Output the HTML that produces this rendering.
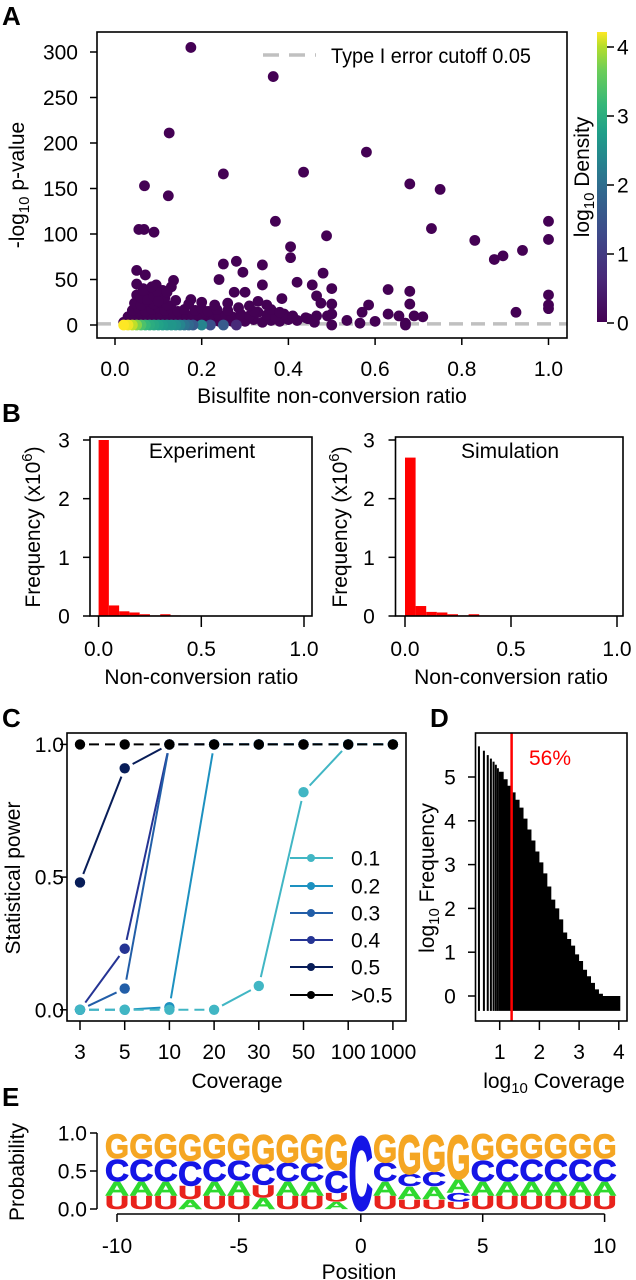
<!DOCTYPE html>
<html><head><meta charset="utf-8"><style>
body{margin:0;background:#fff;}
svg{display:block;font-family:"Liberation Sans",Arial,sans-serif;}
</style></head><body>
<svg id="fig" width="636" height="1280" viewBox="0 0 636 1280" xmlns="http://www.w3.org/2000/svg">
<defs>
<linearGradient id="vir" x1="0" y1="1" x2="0" y2="0">
<stop offset="0" stop-color="#440154"/><stop offset="0.15" stop-color="#482878"/><stop offset="0.3" stop-color="#3e4989"/><stop offset="0.45" stop-color="#31688e"/><stop offset="0.55" stop-color="#26828e"/><stop offset="0.65" stop-color="#1f9e89"/><stop offset="0.75" stop-color="#35b779"/><stop offset="0.87" stop-color="#6ece58"/><stop offset="0.95" stop-color="#b5de2b"/><stop offset="1" stop-color="#fde725"/>
</linearGradient>
</defs>
<g font-weight="bold" font-size="26" fill="#000">
<text x="2" y="25">A</text>
<text x="2" y="422">B</text>
<text x="2" y="727">C</text>
<text x="430" y="727">D</text>
<text x="2" y="1106">E</text>
</g>
<g id="A"></g>
<g id="B"></g>
<g id="C"></g>
<g id="D"></g>
<g id="E"></g>
</svg>
<script>
// ---------- Panel A data ----------
const aPointsX = [0.175,0.365,0.125,0.58,0.435,0.25,0.068,0.68,0.75,0.123,0.37,1.0,0.055,0.067,0.09,0.73,0.488,0.83,1.0,0.94,0.405,0.405,0.875,0.895,0.28,0.25,0.34,0.05,0.295,0.48,0.07,0.135,0.24,0.42,0.34,0.455,0.5,0.63,0.68,1.0,0.275,0.3,0.465,0.385,0.175,0.475,0.5,0.585,0.68,1.0,1.0,0.925,0.57,0.63,0.655,0.69,0.71,0.535,0.565,0.6,0.67,0.67,0.445,0.46,0.5,0.465,0.49,0.5,
0.02,0.03,0.04,0.05,0.06,0.07,0.08,0.09,0.1,0.11,0.12,0.13,0.14,0.15,0.16,0.17,0.18,0.19,0.2,0.21,0.22,0.23,0.24,0.25,0.26,0.27,0.28,0.3,0.32,0.34,0.36,0.38,0.4,0.42,
0.03,0.045,0.06,0.075,0.09,0.105,0.12,0.135,0.15,0.165,0.18,0.195,0.21,0.225,0.24,0.255,0.27,0.29,0.31,0.33,0.35,0.37,0.39,0.41,0.44,
0.04,0.055,0.07,0.085,0.1,0.115,0.13,0.145,0.16,0.185,0.2,0.215,0.235,0.26,0.285,0.32,0.36,0.38,
0.045,0.06,0.075,0.09,0.105,0.12,0.14,0.17,0.2,0.23,0.26,0.31,0.33,0.35,
0.05,0.065,0.08,0.095,0.11,0.13,0.06,0.075,0.09,0.1,0.115,0.05,0.065,0.085,0.1,0.12];
const aPointsY = [305,273,211,190,168,166,153,155,149,142,114,114,105,105,102,106,98,93,94,82,86,74,72,76,70,67,66,60,58,57,55,49,50,47,44,44,40,39,37,33,36,36,32,29,28,24,23,22,23,22,18,14,14,12,10,10,9,5,2,4,2,0,7,3,0,10,10,12,
3,4,3,5,4,3,4,5,3,4,5,3,4,6,3,4,5,3,4,6,3,5,4,3,6,4,5,4,6,3,5,4,6,5,
9,10,12,9,11,10,13,9,12,10,11,9,13,12,10,11,9,12,10,14,11,9,12,10,8,
16,18,15,17,19,16,18,15,17,16,18,15,17,16,19,15,17,14,
24,22,26,23,25,22,27,23,25,22,24,21,26,22,
33,40,36,44,38,42,30,28,32,35,30,45,38,42,26,36];
const stripX = [0.02,0.03,0.04,0.05,0.06,0.07,0.08,0.09,0.1,0.11,0.12,0.13,0.14,0.15,0.16,0.17,0.18,0.2,0.22,0.25,0.28];
const stripDensity = [4.2,4.1,3.8,3.4,3.0,2.8,2.6,2.5,2.4,2.3,2.2,2.2,2.1,1.9,1.6,1.4,1.2,1.9,1.0,1.2,0.5];
const aYTicks = [0,50,100,150,200,250,300];
const aXTicks = [0,0.2,0.4,0.6,0.8,1.0];
const cbTicks = [0,1,2,3,4];

// ---------- Panel B data ----------
const bBins = [0,0.05,0.1,0.15,0.2,0.25,0.3,0.35,0.4,0.45,0.5,0.55,0.6,0.65,0.7,0.75,0.8,0.85,0.9,0.95];
const expFreq = [3.0,0.18,0.08,0.06,0.03,0.01,0.03,0.01,0.005,0.005,0.004,0.003,0.003,0.002,0.002,0.002,0.001,0.001,0.001,0.001];
const simFreq = [2.7,0.17,0.07,0.06,0.03,0.01,0.03,0.01,0.005,0.005,0.004,0.003,0.003,0.002,0.002,0.002,0.001,0.001,0.001,0.001];
const bYTicks = [0,1,2,3];
const bXTicks = [0,0.5,1.0];

// ---------- Panel C data ----------
const coverageCats = ["3","5","10","20","30","50","100","1000"];
const seriesNames = ["0.1","0.2","0.3","0.4","0.5",">0.5"];
const power01 = [0,0,0,0,0.09,0.82,1,1];
const power02 = [0,0,0.01,1,1,1,1,1];
const power03 = [0,0.08,1,1,1,1,1,1];
const power04 = [0,0.23,1,1,1,1,1,1];
const power05 = [0.48,0.91,1,1,1,1,1,1];
const powerGt = [1,1,1,1,1,1,1,1];
const cYTicks = [0,0.5,1.0];

// ---------- Panel D data ----------
const lowCoverage = [3,4,5,6,7,8,9];
const lowLogFreq = [5.7,5.6,5.5,5.42,5.35,5.28,5.2];
const profLogCov = [0.98,1.1,1.2,1.3,1.4,1.5,1.6,1.7,1.8,1.9,2.0,2.1,2.2,2.3,2.4,2.5,2.6,2.7,2.8,2.9,3.0,3.1,3.2,3.3,3.4,3.5,3.6,3.7,3.8,3.9,4.0];
const profLogFreq = [5.12,4.95,4.8,4.65,4.48,4.3,4.05,3.8,3.55,3.3,3.05,2.8,2.5,2.2,2.0,1.75,1.45,1.3,1.15,0.95,0.8,0.6,0.45,0.3,0.15,0.05,0.0,0.0,0.0,0.0,0.0];
const cutoffLogCov = 1.3;
const dYTicks = [0,1,2,3,4,5];
const dXTicks = [1,2,3,4];

// ---------- Panel E data ----------
const positions = [-10,-9,-8,-7,-6,-5,-4,-3,-2,-1,0,1,2,3,4,5,6,7,8,9,10];
const probU = [.18,.18,.18,.18,.18,.18,.17,.18,.18,.12,0,.18,.13,.13,.10,.18,.18,.18,.18,.18,.18];
const probA = [.19,.19,.19,.13,.19,.20,.15,.19,.19,.10,0,.19,.17,.17,.18,.19,.19,.19,.19,.19,.19];
const probC = [.30,.30,.30,.33,.30,.27,.28,.25,.24,.30,1,.25,.17,.20,.12,.28,.30,.30,.30,.30,.30];
const probG = [.33,.33,.33,.36,.33,.35,.40,.38,.39,.48,0,.38,.53,.50,.60,.35,.33,.33,.33,.33,.33];
const eXTicks = [-10,-5,0,5,10];
const eYTicks = [0,0.5,1.0];

const NS = "http://www.w3.org/2000/svg";
function mk(parent, tag, attrs, text){
  const e = document.createElementNS(NS, tag);
  for (const k in attrs) e.setAttribute(k, attrs[k]);
  if (text !== undefined) e.textContent = text;
  parent.appendChild(e);
  return e;
}
function viridis(t){
  const c=[[68,1,84],[72,40,120],[62,73,137],[49,104,142],[38,130,142],[31,158,137],[53,183,121],[110,206,88],[181,222,43],[253,231,37]];
  t=Math.max(0,Math.min(1,t))*(c.length-1); const i=Math.min(c.length-2,Math.floor(t)), f=t-i;
  const r=c[i].map((v,k)=>Math.round(v+(c[i+1][k]-v)*f)); return `rgb(${r[0]},${r[1]},${r[2]})`;
}
const FS = 21;
const DY = 7.5;

// ================= Panel A =================
(function(){
  const g = document.getElementById('A');
  const x = v => 115 + v*(548.5-115);
  const y = v => 325 - v*(273/300);
  let l = mk(g,'line',{x1:97,x2:567,y1:y(1.3),y2:y(1.3),stroke:'#c0c0c0','stroke-width':3.5,'stroke-dasharray':'14,8'});
   
  for (let i=0;i<aPointsX.length;i++){
    const c = mk(g,'circle',{cx:x(aPointsX[i]),cy:y(aPointsY[i]),r:5.4,fill:'#440154'});
     
  }
  for (let i=stripX.length-1;i>=0;i--){
    const c = mk(g,'circle',{cx:x(stripX[i]),cy:y(0),r:5.4,fill:viridis(stripDensity[i]/4.2)});
     
  }
  let b = mk(g,'rect',{x:97,y:32,width:470,height:306,fill:'none',stroke:'#000','stroke-width':1.6});
   
  aYTicks.forEach(v=>{
    mk(g,'line',{x1:90,x2:97,y1:y(v),y2:y(v),stroke:'#000','stroke-width':1.5});
    const t=mk(g,'text',{x:78,y:y(v)+DY,'text-anchor':'end','font-size':FS},v);
     
  });
  aXTicks.forEach(v=>{
    mk(g,'line',{x1:x(v),x2:x(v),y1:338,y2:345,stroke:'#000','stroke-width':1.5});
    const t=mk(g,'text',{x:x(v),y:376,'text-anchor':'middle','font-size':FS},v.toFixed(1));
     
  });
  let t = mk(g,'text',{x:332,y:403,'text-anchor':'middle','font-size':FS},'Bisulfite non-conversion ratio');
   
  t = mk(g,'text',{transform:'translate(24,185) rotate(-90)','text-anchor':'middle','font-size':FS});
   
  t.innerHTML='-log<tspan font-size="15" dy="5">10</tspan><tspan dy="-5"> p-value</tspan>';
  mk(g,'line',{x1:263,x2:316,y1:55,y2:55,stroke:'#c0c0c0','stroke-width':3.5,'stroke-dasharray':'16,10'});
  t = mk(g,'text',{x:331,y:63,'font-size':FS,textLength:200,lengthAdjust:'spacingAndGlyphs'},'Type I error cutoff 0.05');
   
  const cy = v => 323 - v*69;
  let r = mk(g,'rect',{x:597,y:32,width:10,height:290,fill:'url(#vir)'});
   
  cbTicks.forEach(v=>{
    mk(g,'line',{x1:607,x2:614,y1:cy(v),y2:cy(v),stroke:'#000','stroke-width':1.5});
    const tt=mk(g,'text',{x:617,y:cy(v)+DY,'font-size':FS},v);
     
  });
  t = mk(g,'text',{transform:'translate(589,177) rotate(-90)','text-anchor':'middle','font-size':FS});
   
  t.innerHTML='log<tspan font-size="15" dy="5">10</tspan><tspan dy="-5"> Density</tspan>';
})();

// ================= Panel B =================
function histPanel(g, left, right, x0, x1, freq, label, labelX, titleX, labX){
  const x = v => x0 + v*(x1-x0);
  const y = v => 616 - v*(176/3);
  freq.forEach((f,i)=>{
    const r=mk(g,'rect',{x:x(bBins[i]),y:y(f),width:x(bBins[i]+0.05)-x(bBins[i]),height:616-y(f),fill:'#ff0000'});
     
  });
  let b=mk(g,'rect',{x:left,y:437,width:right-left,height:179,fill:'none',stroke:'#000','stroke-width':1.6});
   
  bYTicks.forEach(v=>{
    mk(g,'line',{x1:left-7,x2:left,y1:y(v),y2:y(v),stroke:'#000','stroke-width':1.5});
    const t=mk(g,'text',{x:labX,y:y(v)+DY,'text-anchor':'middle','font-size':FS},v);
     
  });
  bXTicks.forEach(v=>{
    mk(g,'line',{x1:x(v),x2:x(v),y1:616,y2:627,stroke:'#000','stroke-width':1.5});
    const t=mk(g,'text',{x:x(v),y:656,'text-anchor':'middle','font-size':FS},v.toFixed(1));
     
  });
  let t=mk(g,'text',{x:(x0+x1)/2,y:684,'text-anchor':'middle','font-size':FS},'Non-conversion ratio');
   
  t=mk(g,'text',{x:labelX,y:458,'text-anchor':'middle','font-size':FS},label);
   
  t=mk(g,'text',{transform:`translate(${titleX},527) rotate(-90)`,'text-anchor':'middle','font-size':FS});
   
  t.innerHTML='Frequency (x10<tspan font-size="15" dy="-8">6</tspan><tspan dy="8">)</tspan>';
}
(function(){
  const g=document.getElementById('B');
  const g1=mk(g,'g',{});  
  const g2=mk(g,'g',{});  
  histPanel(g1,90,312,98.6,304,expFreq,'Experiment',202,40,64);
  histPanel(g2,395.5,623,405,617,simFreq,'Simulation',510,347,369);
})();

// ================= Panel C =================
(function(){
  const g=document.getElementById('C');
  const x = i => 80 + i*44.7;
  const y = v => 1009.8 - v*265.4;
  const colors=['#41b6c4','#1d91c0','#225ea8','#253494','#081d58','#000000'];
  const data=[power01,power02,power03,power04,power05,powerGt];
  const order=[4,3,2,1,0,5];
  order.forEach(s=>{
    const sg=mk(g,'g',{});  
    const d=data[s];
    for(let i=0;i<d.length-1;i++){
      const ax=x(i),ay=y(d[i]),bx=x(i+1),by=y(d[i+1]);
      const L=Math.hypot(bx-ax,by-ay), ux=(bx-ax)/L, uy=(by-ay)/L, gap=9;
      if (L<2*gap+2) continue;
      const ln=mk(sg,'line',{x1:ax+ux*gap,y1:ay+uy*gap,x2:bx-ux*gap,y2:by-uy*gap,stroke:colors[s],'stroke-width':2});
      if (d[i]===d[i+1]) ln.setAttribute('stroke-dasharray','10,6');
       
    }
    d.forEach((v,i)=>{
      const c=mk(sg,'circle',{cx:x(i),cy:y(v),r:5.2,fill:colors[s]});
       
    });
  });
  let b=mk(g,'rect',{x:67,y:733,width:339,height:288,fill:'none',stroke:'#000','stroke-width':1.6});
   
  cYTicks.forEach(v=>{
    mk(g,'line',{x1:60,x2:67,y1:y(v),y2:y(v),stroke:'#000','stroke-width':1.5});
    const t=mk(g,'text',{x:64,y:y(v)+DY,'text-anchor':'end','font-size':FS},v.toFixed(1));
     
  });
  coverageCats.forEach((c,i)=>{
    mk(g,'line',{x1:x(i),x2:x(i),y1:1021,y2:1030,stroke:'#000','stroke-width':1.5});
    const t=mk(g,'text',{x:x(i),y:1059,'text-anchor':'middle','font-size':FS},c);
     
  });
  let t=mk(g,'text',{x:237,y:1088,'text-anchor':'middle','font-size':FS},'Coverage');
   
  t=mk(g,'text',{transform:'translate(20,878) rotate(-90)','text-anchor':'middle','font-size':FS},'Statistical power');
   
  const ly=[858,886,913,940,967,995];
  seriesNames.forEach((n,i)=>{
    const lg=mk(g,'g',{});  
    mk(lg,'line',{x1:290,x2:333,y1:ly[i],y2:ly[i],stroke:colors[i],'stroke-width':2});
    mk(lg,'circle',{cx:311,cy:ly[i],r:4,fill:colors[i]});
    mk(lg,'text',{x:351,y:ly[i]+DY,'font-size':FS},n);
  });
})();

// ================= Panel D =================
(function(){
  const g=document.getElementById('D');
  const x = v => 460 + v*39.7;
  const y = v => 996 - v*43.8;
  const base = y(-0.34);
  lowCoverage.forEach((c,i)=>{
    const r=mk(g,'rect',{x:x(Math.log10(c))-1,y:y(lowLogFreq[i]),width:2,height:base-y(lowLogFreq[i]),fill:'#000'});
     
  });
  let d='M'+x(profLogCov[0])+','+base;
  for(let i=0;i<profLogCov.length;i++){
    const xe = i<profLogCov.length-1 ? x(profLogCov[i+1]) : x(profLogCov[i])+1.5;
    d+=' L'+x(profLogCov[i])+','+y(profLogFreq[i])+' L'+xe+','+y(profLogFreq[i]);
  }
  d+=' L'+(x(profLogCov[profLogCov.length-1])+1.5)+','+base+' Z';
  let p=mk(g,'path',{d:d,fill:'#000'});
   
  let l=mk(g,'line',{x1:x(cutoffLogCov),x2:x(cutoffLogCov),y1:733,y2:1021,stroke:'#ff0000','stroke-width':2.5});
   
  let t=mk(g,'text',{x:550,y:765,'text-anchor':'middle','font-size':FS,fill:'#ff0000'},'56%');
   
  let b=mk(g,'rect',{x:475.5,y:733,width:151.5,height:288,fill:'none',stroke:'#000','stroke-width':1.6});
   
  dYTicks.forEach(v=>{
    mk(g,'line',{x1:468,x2:475.5,y1:y(v),y2:y(v),stroke:'#000','stroke-width':1.5});
    const tt=mk(g,'text',{x:450,y:y(v)+DY,'text-anchor':'middle','font-size':FS},v);
     
  });
  dXTicks.forEach(v=>{
    mk(g,'line',{x1:x(v),x2:x(v),y1:1021,y2:1030,stroke:'#000','stroke-width':1.5});
    const tt=mk(g,'text',{x:x(v),y:1059,'text-anchor':'middle','font-size':FS},v);
     
  });
  t=mk(g,'text',{x:554,y:1088,'text-anchor':'middle','font-size':FS});
   
  t.innerHTML='log<tspan font-size="15" dy="5">10</tspan><tspan dy="-5"> Coverage</tspan>';
  t=mk(g,'text',{transform:'translate(434,878) rotate(-90)','text-anchor':'middle','font-size':FS});
   
  t.innerHTML='log<tspan font-size="15" dy="5">10</tspan><tspan dy="-5"> Frequency</tspan>';
})();

// ================= Panel E =================
(function(){
  const g=document.getElementById('E');
  const x = v => 117 + (v+10)*24.38;
  const y = v => 1209 - v*76;
  const colW = 24;
  const letters=[['U',probU,'#e8231c'],['A',probA,'#2fd92f'],['C',probC,'#1515e6'],['G',probG,'#f5a623']];
  positions.forEach((pos,i)=>{
    const stack=letters.map(L=>({ch:L[0],p:L[1][i],col:L[2]})).filter(s=>s.p>0).sort((a,b)=>a.p-b.p);
    let cum=0;
    stack.forEach(s=>{
      const yb=y(cum), h=s.p*76;
      const lg=mk(g,'g',{transform:`translate(${x(pos)-colW/2},${yb}) scale(1,${h/74})`});
       
      mk(lg,'text',{x:0,y:0,'font-size':100,'font-weight':'bold',fill:s.col,stroke:s.col,'stroke-width':3,textLength:colW,lengthAdjust:'spacingAndGlyphs'},s.ch);
      cum+=s.p;
    });
  });
  mk(g,'line',{x1:97,x2:97,y1:y(1),y2:y(0),stroke:'#000','stroke-width':1.5});
  eYTicks.forEach(v=>{
    mk(g,'line',{x1:90,x2:97,y1:y(v),y2:y(v),stroke:'#000','stroke-width':1.5});
    const t=mk(g,'text',{x:87,y:y(v)+DY,'text-anchor':'end','font-size':FS},v.toFixed(1));
     
  });
  mk(g,'line',{x1:x(-10),x2:x(10),y1:1214,y2:1214,stroke:'#000','stroke-width':1.5});
  eXTicks.forEach(v=>{
    mk(g,'line',{x1:x(v),x2:x(v),y1:1214,y2:1222,stroke:'#000','stroke-width':1.5});
    const t=mk(g,'text',{x:x(v),y:1253,'text-anchor':'middle','font-size':FS},v);
     
  });
  let t=mk(g,'text',{x:359,y:1279,'text-anchor':'middle','font-size':FS},'Position');
   
  t=mk(g,'text',{transform:'translate(24,1172) rotate(-90)','text-anchor':'middle','font-size':FS},'Probability');
   
})();
</script>
</body></html>
